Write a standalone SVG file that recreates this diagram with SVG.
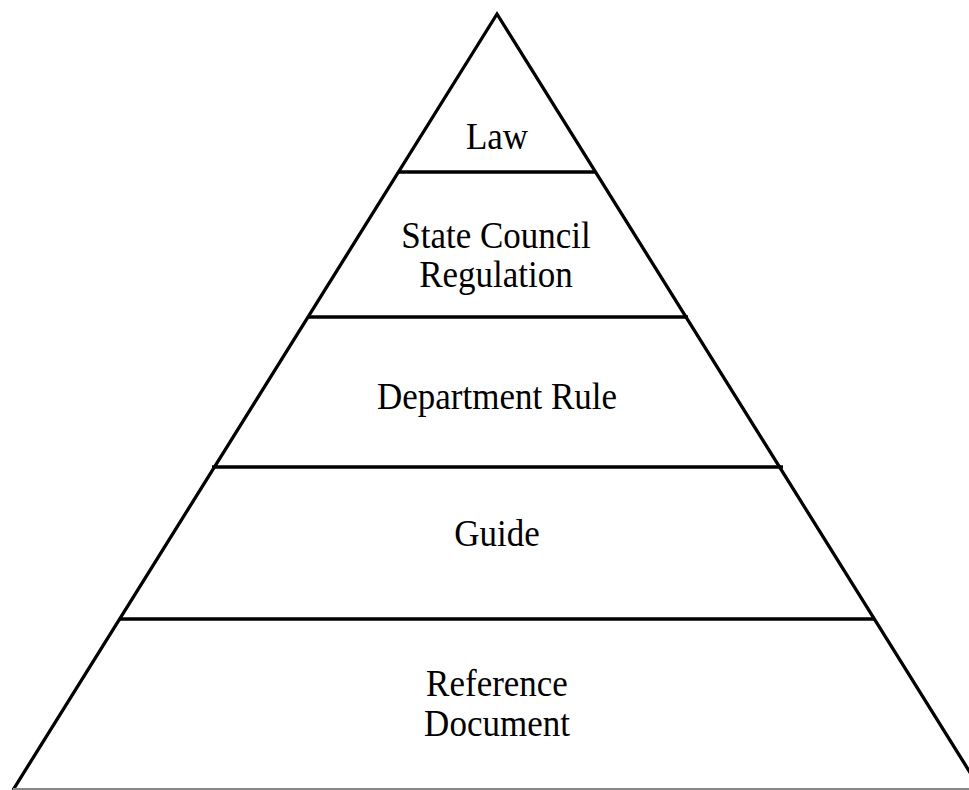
<svg xmlns="http://www.w3.org/2000/svg" width="969" height="790" viewBox="0 0 969 790">
<style>
.edge{stroke:#000;stroke-width:3.3;fill:none}
.t{font-family:"Liberation Serif","Times New Roman",serif;font-size:35px;fill:#000;text-anchor:middle}
</style>
<rect width="969" height="790" fill="#fff"/>
<g id="connectors">
<polyline class="edge" points="13,790 497,14 981,790"/>
<line x1="13" y1="789" x2="969" y2="789" stroke="#888" stroke-width="2"/>
<line class="edge" x1="398" y1="172" x2="596" y2="172"/>
<line class="edge" x1="308" y1="317" x2="688" y2="317"/>
<line class="edge" x1="212" y1="467" x2="783" y2="467"/>
<line class="edge" x1="120" y1="619" x2="875" y2="619"/>
</g>
<g id="law"><text class="t" transform="translate(497,149) scale(1,1.1)">Law</text></g>
<g id="state-council"><text class="t" transform="translate(496,248) scale(1,1.1)">State Council</text><text class="t" transform="translate(496,287) scale(1,1.1)">Regulation</text></g>
<g id="department-rule"><text class="t" transform="translate(497,409) scale(1,1.1)">Department Rule</text></g>
<g id="guide"><text class="t" transform="translate(497,546) scale(1,1.1)">Guide</text></g>
<g id="reference-document"><text class="t" transform="translate(497,696) scale(1,1.1)">Reference</text><text class="t" transform="translate(497,736) scale(1,1.1)">Document</text></g>
</svg>
